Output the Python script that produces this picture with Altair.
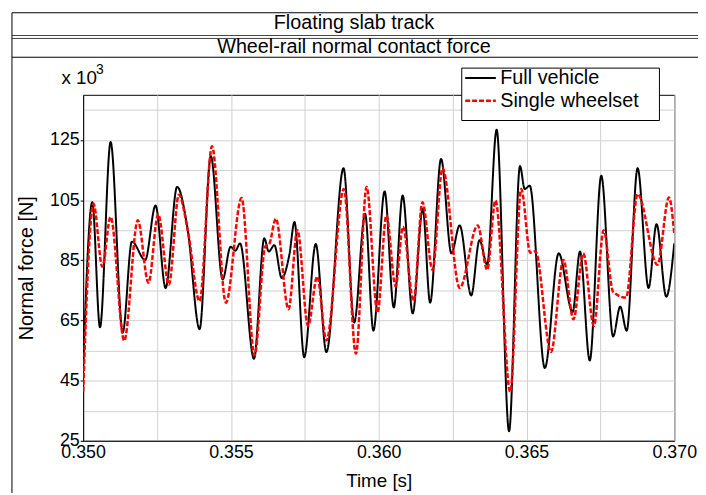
import altair as alt
import pandas as pd

series_names = ["Full vehicle", "Single wheelset"]

full_t = [0.35000, 0.35031, 0.35057, 0.35093, 0.35134, 0.35165, 0.35210, 0.35245,
          0.35279, 0.35318, 0.35354, 0.35394, 0.35432, 0.35472, 0.35499, 0.35515,
          0.35531, 0.35578, 0.35613, 0.35628, 0.35647, 0.35672, 0.35698, 0.35715,
          0.35748, 0.35787, 0.35823, 0.35881, 0.35917, 0.35954, 0.35982, 0.36020,
          0.36051, 0.36081, 0.36115, 0.36149, 0.36174, 0.36211, 0.36246, 0.36274,
          0.36313, 0.36341, 0.36367, 0.36399, 0.36441, 0.36478, 0.36494, 0.36511,
          0.36562, 0.36609, 0.36656, 0.36681, 0.36714, 0.36753, 0.36793, 0.36817,
          0.36839, 0.36876, 0.36913, 0.36940, 0.36973, 0.37000]
full_v = [49.0, 104.3, 62.7, 124.3, 61.0, 91.2, 85.1, 103.2,
          75.8, 109.4, 95.0, 62.1, 119.6, 78.6, 89.5, 88.2,
          90.6, 52.3, 92.3, 87.9, 90.0, 79.1, 87.0, 97.7,
          52.8, 90.4, 54.5, 115.6, 64.3, 100.5, 61.6, 107.9,
          69.3, 106.5, 67.4, 102.1, 70.9, 118.7, 87.3, 96.6,
          73.3, 91.7, 83.5, 128.4, 28.2, 116.3, 108.7, 109.8,
          49.2, 87.3, 67.8, 87.9, 51.7, 113.1, 59.7, 69.6,
          61.6, 115.6, 75.8, 97.0, 72.9, 90.6]

single_t = [0.35000, 0.35035, 0.35065, 0.35093, 0.35139, 0.35185, 0.35221, 0.35254,
            0.35290, 0.35324, 0.35354, 0.35394, 0.35436, 0.35483, 0.35536, 0.35580,
            0.35616, 0.35630, 0.35652, 0.35695, 0.35725, 0.35761, 0.35792, 0.35823,
            0.35882, 0.35923, 0.35959, 0.35996, 0.36026, 0.36057, 0.36082, 0.36118,
            0.36148, 0.36182, 0.36216, 0.36274, 0.36335, 0.36367, 0.36395, 0.36445,
            0.36482, 0.36513, 0.36530, 0.36583, 0.36625, 0.36659, 0.36692, 0.36728,
            0.36761, 0.36793, 0.36837, 0.36876, 0.36943, 0.36982, 0.37000]
single_v = [41.3, 103.8, 82.9, 99.4, 58.3, 98.3, 77.5, 100.3,
            76.9, 106.8, 95.0, 71.4, 122.9, 70.9, 105.7, 53.4,
            89.5, 90.5, 98.8, 68.7, 95.0, 63.2, 79.6, 58.3,
            108.7, 53.9, 109.4, 67.6, 99.9, 76.4, 96.1, 71.4,
            104.3, 81.8, 115.6, 75.8, 96.6, 81.8, 104.9, 41.3,
            108.7, 87.5, 88.0, 54.5, 85.1, 65.4, 87.3, 63.2,
            95.0, 74.5, 72.6, 107.0, 83.5, 105.9, 93.9]

x_ticks = [0.3500, 0.3525, 0.3550, 0.3575, 0.3600, 0.3625, 0.3650, 0.3675, 0.3700]
y_grid = [25, 35, 45, 55, 65, 75, 85, 95, 105, 115, 125, 135]

title_text = "Floating slab track"
subtitle_text = "Wheel-rail normal contact force"
x_title = "Time [s]"
y_title = "Normal force [N]"

FONT = "Liberation Sans"

df = pd.concat([
    pd.DataFrame({"t": full_t, "v": full_v, "series": series_names[0]}),
    pd.DataFrame({"t": single_t, "v": single_v, "series": series_names[1]}),
], ignore_index=True)

one = pd.DataFrame({"a": [0]})

leg = dict(orient="none", legendX=385, legendY=-27, title=None)

x_enc = alt.X("t:Q", title=x_title,
              scale=alt.Scale(domain=[0.35, 0.37], nice=False, zero=False),
              axis=alt.Axis(values=x_ticks,
                            labelExpr="abs(datum.value*200 - round(datum.value*200)) < 0.01 ? format(datum.value, '.3f') : ''",
                            grid=True, gridColor="#d0d0d0", ticks=False,
                            domainColor="black", labelFontSize=18, labelPadding=3,
                            labelFlush=False, labelOverlap=False, labelColor="black",
                            titleFontSize=19, titleFontWeight="normal", titleColor="black",
                            titleY=40, titleBaseline="middle"))
y_enc = alt.Y("v:Q", title=y_title,
              scale=alt.Scale(domain=[25, 140], nice=False, zero=False),
              axis=alt.Axis(values=y_grid,
                            labelExpr="(datum.value - 25) % 20 == 0 ? datum.value : ''",
                            grid=True, gridColor="#d0d0d0", tickSize=3,
                            tickColor={"condition": {"test": "(datum.value - 25) % 20 == 0", "value": "black"}, "value": "transparent"},
                            domainColor="black", labelFontSize=18, labelPadding=1,
                            labelFlush=False, labelOverlap=False, labelColor="black",
                            titleFontSize=20, titleFontWeight="normal", titleColor="black",
                            titleX=-57, titleY=175, titleAngle=270,
                            titleAlign="center", titleBaseline="middle"))

lines = alt.Chart(df).mark_line(interpolate="monotone", clip=True).encode(
    x=x_enc,
    y=y_enc,
    color=alt.Color("series:N", scale=alt.Scale(domain=series_names, range=["#000000", "#ff0000"]),
                    legend=alt.Legend(**leg)),
    strokeDash=alt.StrokeDash("series:N", scale=alt.Scale(domain=series_names, range=[[1, 0], [5, 2]]),
                              legend=alt.Legend(**leg)),
    strokeWidth=alt.StrokeWidth("series:N", scale=alt.Scale(domain=series_names, range=[2, 2.5]),
                                legend=alt.Legend(**leg)),
)

def hrule(y, x1=-72, x2=700, color="black", w=1):
    return alt.Chart(one).mark_rule(color=color, strokeWidth=w).encode(
        x=alt.value(x1), x2=alt.value(x2), y=alt.value(y))

frame = [
    hrule(-83),
    hrule(-60, color="#444444"),
    hrule(-57, color="#444444"),
    hrule(-38),
    alt.Chart(one).mark_rule(color="black", strokeWidth=1).encode(
        x=alt.value(-72), y=alt.value(-83), y2=alt.value(420)),
]

def label(text, x, y, size, align="center"):
    return alt.Chart(one).mark_text(text=text, font=FONT, fontSize=size, color="black",
                                    align=align, baseline="middle").encode(
        x=alt.value(x), y=alt.value(y))

texts = [
    label(title_text, 274, -73, 20),
    label(subtitle_text, 274, -48, 20),
    label("x 10", -22, -17, 19, align="left"),
    label("3", 13, -25, 14, align="left"),
]

legend_box = alt.Chart(one).mark_rect(fill="white", stroke="black", strokeWidth=1).encode(
    x=alt.value(383), x2=alt.value(583), y=alt.value(-27), y2=alt.value(26))

chart = alt.layer(*frame, lines, legend_box, *texts).properties(
    width=598, height=350,
    autosize=alt.AutoSizeParams(type="none"),
    padding={"left": 76, "top": 85, "right": 24, "bottom": 50},
).configure(font=FONT).configure_view(
    stroke="black", strokeWidth=1
).configure_legend(
    padding=0, symbolType="stroke", symbolSize=961, clipHeight=20, rowPadding=3,
    labelFontSize=20, labelOffset=3, labelColor="black", labelFont=FONT,
    symbolStrokeWidth=2
)

chart.save("out.html", embed_options={"renderer": "svg", "actions": False})
